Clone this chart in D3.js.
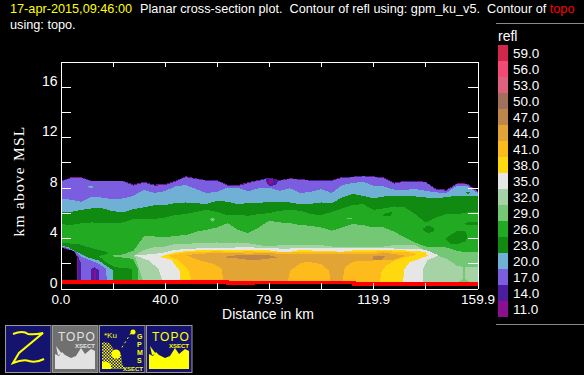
<!DOCTYPE html>
<html>
<head>
<meta charset="utf-8">
<script src="https://cdn.jsdelivr.net/npm/d3@7"></script>
<style>
    html, body { margin: 0; padding: 0; background: #000; overflow: hidden; }
    svg { display: block; }
    text { font-family: "Liberation Sans", sans-serif; font-size: 12.7px; fill: #fff; }
</style>
</head>
<body>
<div id="chart"></div>
<script>
// legend
const legendLevels = ["59.0","56.0","53.0","50.0","47.0","44.0","41.0","38.0","35.0","32.0","29.0","26.0","23.0","20.0","17.0","14.0","11.0"];
const legendColors = ["#d0284a","#f24a75","#e06080","#a0705a","#bd8749","#e2a535","#fdbb1c","#ffd90f","#e6e6e6","#a6d3a6","#74c774","#22aa22","#108a10","#6fb0d4","#7b5ee0","#4c1d9e","#8b0f8f"];

// axis ticks
const xTicks = [0,20,40,60,79.9,99.9,119.9,139.9,159.9];
const xTickLabels = ["0.0","","40.0","","79.9","","119.9","","159.9"];
const yTicks = [0,2,4,6,8,10,12,14,16];
const yTickLabels = ["0","","4","","8","","12","","16"];

// distance samples in km, the top edge of each contour level is read at these
const dist = [0,4,8,12,16,20,24,28,32,36,40,44,48,52,56,60,64,68,72,76,80,84,88,92,96,100,104,108,112,116,120,124,128,132,136,140,144,148,152,156,159.9];

// top edge of each reflectivity level, km above MSL
const top11 = [8.52,8.82,8.82,8.55,8.55,8.55,8.55,8.24,8.47,8.24,8.28,8.53,8.9,8.74,8.6,8.6,8.24,8.2,8.44,8.6,8.8,8.6,8.74,8.68,8.6,8.6,8.6,8.84,8.87,8.95,8.9,8.8,8.4,8.53,8.53,8.47,7.92,7.84,8.34,8.32,7.75];
const top14 = [8.5,8.79,8.79,8.52,8.52,8.52,8.52,8.2,8.44,8.2,8.24,8.5,8.87,8.71,8.57,8.57,8.2,8.15,8.4,8.57,8.77,8.57,8.71,8.65,8.57,8.57,8.57,8.81,8.84,8.92,8.87,8.77,8.36,8.5,8.5,8.44,7.88,7.8,8.31,8.29,7.71];
const top17 = [8.47,8.76,8.76,8.49,8.49,8.49,8.49,8.15,8.41,8.15,8.2,8.47,8.84,8.68,8.54,8.54,8.15,8.1,8.36,8.54,8.73,8.54,8.68,8.62,8.54,8.54,8.54,8.78,8.81,8.89,8.84,8.73,8.31,8.47,8.47,8.41,7.83,7.75,8.28,8.25,7.67];
const top20 = [7.14,7.04,6.88,7.3,7.2,7.09,7.14,7.35,7.83,7.57,7.72,8.1,8.2,7.88,7.57,7.67,7.99,7.99,7.72,7.94,7.99,7.75,7.94,7.57,7.67,7.88,7.57,8.2,8.36,8.47,8.15,8.1,7.83,7.83,7.88,7.75,7.62,7.57,8.15,8.1,7.57];
const top23 = [6.08,6.08,6.24,6.35,6.35,6.14,6.03,6.3,6.43,6.61,6.61,6.77,6.82,6.77,6.69,6.96,6.88,6.69,6.77,6.77,6.88,6.82,6.82,6.67,6.72,6.82,6.77,7.22,7.51,7.35,7.14,7.3,7.3,7.35,7.3,7.22,7.14,7.25,7.35,7.35,7.3];
const top26 = [5.11,5.03,5.18,5.24,5.18,5.18,5.24,5.5,5.5,5.5,5.63,5.82,5.9,6.08,6.24,6.08,5.82,5.82,5.77,5.9,5.98,6.16,6.24,6.16,5.9,5.82,6.08,6.35,6.61,6.69,6.24,6.35,6.51,6.43,5.9,5.24,5.63,5.9,5.9,6.03,6.08];
const top29 = [null,null,null,null,null,2.62,2.7,3.0,4.13,4.13,4.05,4.18,4.23,4.5,4.66,4.84,5.18,4.66,4.39,4.84,5.37,5.24,5.18,5.03,4.97,4.84,4.58,4.84,5.11,5.03,4.84,4.84,4.5,4.05,3.65,3.33,3.33,3.25,2.99,2.86,2.86];
const top32 = [null,null,null,null,null,null,null,2.6,3.05,3.28,3.33,3.52,3.52,3.6,3.6,3.65,3.6,3.65,3.6,3.44,3.33,3.44,3.44,3.44,3.44,3.44,3.33,3.33,3.33,3.33,3.33,3.33,3.44,3.44,3.44,2.99,2.65,2.38,1.8,1.67,1.67];
const top35 = [null,null,null,null,null,null,null,null,2.67,2.75,2.86,3.07,3.12,3.17,3.23,3.23,3.17,3.28,3.28,3.23,3.23,3.17,3.17,3.23,3.23,3.23,3.23,3.23,3.23,3.23,3.23,3.23,3.17,3.17,3.17,3.07,2.72,null,null,null,null];
const top38 = [null,null,null,null,null,null,null,null,null,null,2.65,2.86,2.96,3.02,3.02,3.07,3.02,3.07,3.07,3.02,3.02,2.91,2.91,3.07,3.02,2.96,2.96,2.91,3.02,3.02,3.02,3.07,3.02,3.02,2.96,2.91,null,null,null,null,null];
const top41 = [null,null,null,null,null,null,null,null,null,null,null,2.72,2.86,2.91,2.91,2.96,2.91,2.91,2.96,2.91,2.91,2.86,2.86,2.86,2.86,2.86,2.86,2.86,2.91,2.91,2.91,3.0,2.91,2.91,2.8,null,null,null,null,null,null];
const top44 = [null,null,null,null,null,null,null,null,null,null,null,null,2.65,2.72,2.78,2.78,2.78,2.81,2.75,2.81,2.81,2.75,2.75,2.75,2.75,2.75,2.75,2.75,2.7,2.7,2.7,2.86,2.72,null,null,null,null,null,null,null,null];
const top47 = [null,null,null,null,null,null,null,null,null,null,null,null,null,null,null,null,2.54,2.65,2.67,2.67,2.65,null,null,null,null,null,null,null,null,null,null,null,null,null,null,null,null,null,null,null,null];

// rest of each outline, [km, km above MSL], going back from right to left
const edge11 = [[159.9,0.35],[6.5,0.35],[6.5,0.77],[6.3,2.49],[5,3.02],[2.4,3.1],[0,3.25]];
const edge14 = [[159.9,0.35],[6.9,0.35],[6.8,2.3],[5.4,2.98],[2.4,3.13],[0,3.28]];
const edge17 = [[159.9,0.35],[7.9,0.35],[7.9,1.96],[6.9,2.49],[5,2.98],[2.4,3.16],[0,3.31]];
const edge20 = [[159.9,0.35],[17.8,0.35],[17.5,1.56],[14.6,1.96],[10.7,2.3],[8.2,2.49],[6.3,2.88],[3.1,3.2],[0,3.35]];
const edge23 = [[159.9,0.35],[20.3,0.35],[20.3,1.43],[17.8,1.77],[14.6,2.22],[10.7,2.46],[6.9,2.83],[3.1,3.25],[0,3.41]];
const edge26 = [[159.9,0.35],[27.4,0.35],[27.4,1.56],[20.9,1.69],[17.8,2.04],[14.6,2.57],[18.4,2.78],[17.1,2.94],[12,3.2],[6.9,3.52],[0,3.62]];
const edge29 = [[159.9,0.35],[29.7,0.35],[29.7,1.56],[27.7,2.35],[20,2.55]];
const edge32 = [[159.9,0.35],[32.2,0.35],[29.9,1.69],[28.9,2.35],[28,2.57]];
const edge35 = [[144.9,2.6],[140.8,2.27],[138.9,1.53],[138.9,0.35],[39.5,0.35],[38.9,0.77],[37.6,1.56],[33.8,2.22],[29.3,2.57],[28.4,2.62]];
const edge38 = [[140.8,2.59],[133.8,2.06],[131.9,1.53],[131.2,0.35],[45.7,0.35],[45.7,1.4],[42.5,2.27],[40,2.4],[38.2,2.5]];
const edge41 = [[136.3,2.65],[131.9,2.46],[128,2.2],[124.8,1.8],[122.9,1.27],[122.5,0.35],[50.1,0.35],[50.1,0.74],[48.9,1.53],[45,2.27],[41.2,2.59]];
const edge44 = [[132.5,2.6],[127.4,2.27],[123.5,2.27],[120,2.22],[116,2.22],[112,2.12],[109,1.67],[108,0.35],[103.6,0.35],[103,1.4],[100,1.93],[95,2.12],[92,2.01],[88,1.4],[87,0.35],[62.3,0.35],[62,1.53],[59,1.93],[52.7,2.27],[48.9,2.59]];
const edge47 = [[83,2.45],[80,2.38],[76,2.27],[72,2.27],[68,2.38],[64,2.43],[62.3,2.5]];

// small closed cells that sit inside a neighbouring level
const cell14a = [[11.6,0.35],[11.7,1.5],[13,1.72],[14.6,1.45],[14.8,0.35]];
const cell11a = [[12.7,0.35],[12.8,1.5],[13.5,1.5],[13.5,0.35]];
const cell14b = [[78.5,8.75],[79.5,8.2],[81,8.1],[83,8.3],[83.5,8.6],[81,8.72]];
const cell11b = [[79.8,8.72],[80.2,8.25],[81.2,8.25],[81.5,8.7]];
const cell20a = [[10.1,8.05],[11.5,8.15],[13,8.05],[11.5,7.96]];
const cell23a = [[123.5,5.75],[124.5,6],[127,6.05],[126.8,5.75]];
const cell23b = [[138.9,4.75],[141,5],[143.4,4.8],[143,4.5],[141,4.4],[139.5,4.55]];
const cell23c = [[147.6,3.95],[150,4.3],[152,4.55],[155,4.55],[156,4.2],[155.5,3.75],[152,3.5],[149.5,3.5]];
const cell23d = [[154.8,5.13],[156,5.24],[159.9,5.24],[159.9,5.03],[156,5.03]];
const cell23e = [[155,7.6],[157.4,7.67],[156.5,7.46]];
const cell29a = [[57.2,5.45],[58.2,5.63],[59.3,5.45],[58.2,5.29]];
const cell29b = [[109.7,5.58],[111.6,5.58],[111.6,5.48],[109.7,5.48]];
const cell29c = [[154.4,1.8],[155.2,1.8],[155.2,0.75],[157,0.5],[152.5,0.5],[154.4,0.75]];
const cell47a = [[119.7,2.56],[124.5,2.6],[123.5,2.3],[119.7,2.25]];

// topo contour, km above MSL
const topoDist = [0,64,74,112.5,159.9];
const topoHeight = [0.5,0.42,0.48,0.34,0.34];

const color = level => legendColors[legendLevels.indexOf(level)];

var dimensions = {
    width: 584,
    height: 375,
    left: 60.5,
    right: 477.5,
    top: 61.5,
    bottom: 288.5
};

const svg = d3.select('#chart')
              .append('svg')
              .attr('width', dimensions.width)
              .attr('height', dimensions.height);

const xScale = d3.scaleLinear()
                 .domain([0, 159.9])
                 .range([dimensions.left, dimensions.right]);
const yScale = d3.scaleLinear()
                 .domain([0, 18])
                 .range([dimensions.bottom, dimensions.top]);

const outline = d3.line()
                  .x(d => xScale(d[0]))
                  .y(d => yScale(d[1]));

//Contour levels are painted lowest first, each one over the last
const levels = [
    ["11.0", top11, edge11], ["14.0", top14, edge14], ["17.0", top17, edge17],
    ["20.0", top20, edge20], ["23.0", top23, edge23], ["26.0", top26, edge26],
    ["29.0", top29, edge29], ["32.0", top32, edge32], ["35.0", top35, edge35],
    ["38.0", top38, edge38], ["41.0", top41, edge41], ["44.0", top44, edge44],
    ["47.0", top47, edge47]
];
const cells = [
    ["14.0", cell14a], ["11.0", cell11a], ["14.0", cell14b], ["11.0", cell11b],
    ["20.0", cell20a], ["23.0", cell23a], ["23.0", cell23b], ["23.0", cell23c],
    ["23.0", cell23d], ["23.0", cell23e], ["29.0", cell29a], ["29.0", cell29b],
    ["29.0", cell29c], ["47.0", cell47a]
];

const plot = svg.append('g').attr('shape-rendering', 'crispEdges');

levels.forEach(function([level, tops, edge]) {
    const upper = dist.map((d, i) => [d, tops[i]]).filter(d => d[1] !== null);
    plot.append('path')
        .attr('d', outline(upper.concat(edge)) + 'Z')
        .attr('fill', color(level));
});

cells.forEach(function([level, cell]) {
    plot.append('path')
        .attr('d', outline(cell) + 'Z')
        .attr('fill', color(level));
});

//Topo contour
const topoLine = d3.line()
                   .curve(d3.curveStepAfter)
                   .x(d => xScale(d[0]))
                   .y(d => yScale(d[1]));
plot.append('path')
    .attr('d', topoLine(topoDist.map((d, i) => [d, topoHeight[i]])))
    .attr('fill', 'none')
    .attr('stroke', '#ff0000')
    .attr('stroke-width', 3.5);

//Axes, ticks point into the plot
const xLabel = d => xTickLabels[xTicks.indexOf(d)];
const yLabel = d => yTickLabels[yTicks.indexOf(d)];

function cleanAxis(g) {
    g.attr('shape-rendering', 'crispEdges');
    g.select('.domain').attr('stroke', '#fff');
    g.selectAll('.tick line').attr('stroke', '#fff');
    g.attr('font-family', null).attr('font-size', null);
}

svg.append('g')
   .attr('transform', `translate(0, ${dimensions.bottom})`)
   .call(d3.axisBottom(xScale).tickValues(xTicks).tickSizeInner(-6).tickSizeOuter(0).tickPadding(6).tickFormat(xLabel))
   .call(cleanAxis)
   .selectAll('text').style('font-size', '13.5px');

svg.append('g')
   .attr('transform', `translate(0, ${dimensions.top})`)
   .call(d3.axisTop(xScale).tickValues(xTicks).tickSizeInner(-5).tickSizeOuter(0).tickFormat(''))
   .call(cleanAxis);

svg.append('g')
   .attr('transform', `translate(${dimensions.left}, 0)`)
   .call(d3.axisLeft(yScale).tickValues(yTicks).tickSizeInner(-10).tickSizeOuter(0).tickPadding(3).tickFormat(yLabel))
   .call(cleanAxis)
   .selectAll('text').attr('dy', '-0.1em').style('font-size', '14px');

svg.append('g')
   .attr('transform', `translate(${dimensions.right}, 0)`)
   .call(d3.axisRight(yScale).tickValues(yTicks).tickSizeInner(-10).tickSizeOuter(0).tickFormat(''))
   .call(cleanAxis);

//Axis titles
svg.append('text')
   .attr('x', 268).attr('y', 319)
   .attr('text-anchor', 'middle')
   .style('font-size', '14px')
   .text('Distance in km');

svg.append('text')
   .attr('transform', 'translate(24, 181) rotate(-90)')
   .attr('text-anchor', 'middle')
   .style('font-family', '"Liberation Serif", serif')
   .style('font-size', '15.5px')
   .style('letter-spacing', '1.2px')
   .text('km above MSL');

//Title
const title = svg.append('text').attr('x', 10).attr('y', 13).attr('xml:space', 'preserve');
title.append('tspan').style('fill', '#ffff00').text('17-apr-2015,09:46:00');
title.append('tspan').attr('dx', 8).text('Planar cross-section plot.  Contour of refl using: gpm_ku_v5.  Contour of ');
title.append('tspan').style('fill', '#ff0000').text('topo');
svg.append('text').attr('x', 10).attr('y', 29).text('using: topo.');

//Colour legend
[23.5, 324.5].forEach(function(y) {
    svg.append('line')
       .attr('x1', 496).attr('x2', 584)
       .attr('y1', y).attr('y2', y)
       .attr('stroke', '#8a8a8a');
});
svg.append('text').attr('x', 498).attr('y', 41).style('font-size', '14px').text('refl');

const legendY = d3.scaleBand().domain(legendLevels).range([45, 317]);
svg.append('g')
   .attr('shape-rendering', 'crispEdges')
   .selectAll('rect')
   .data(legendLevels)
   .join('rect')
   .attr('x', 498).attr('width', 10)
   .attr('y', d => legendY(d))
   .attr('height', legendY.bandwidth())
   .attr('fill', d => color(d));
svg.append('g')
   .selectAll('text')
   .data(legendLevels)
   .join('text')
   .attr('x', 513)
   .attr('y', d => legendY(d) + 13)
   .style('font-size', '13.5px')
   .text(d => d);

//Toolbar icons under the plot
const icons = [
    { x: 5, bg: '#14146e' },
    { x: 52, bg: '#707070' },
    { x: 99, bg: '#14146e' },
    { x: 146, bg: '#14146e' }
];
const defs = svg.append('defs');
const checker = defs.append('pattern')
                    .attr('id', 'checker')
                    .attr('width', 3).attr('height', 3)
                    .attr('patternUnits', 'userSpaceOnUse');
checker.append('rect').attr('width', 1.5).attr('height', 1.5).attr('fill', '#ffff00');
checker.append('rect').attr('x', 1.5).attr('y', 1.5).attr('width', 1.5).attr('height', 1.5).attr('fill', '#ffff00');

const icon = svg.append('g').selectAll('g')
                .data(icons)
                .join('g')
                .attr('transform', d => `translate(${d.x}, 325)`);
icon.append('rect')
    .attr('x', 0.5).attr('y', 0.5).attr('width', 45.5).attr('height', 47)
    .attr('fill', d => d.bg)
    .attr('stroke', '#9a9a9a');

const hills = 'M3 44V29L7 31L10 27L13 30L19 33L24 31L29 23L33 29L39 24L43 26V44Z';

function topoIcon(i, paint) {
    const g = icon.filter((d, j) => j === i);
    g.append('path').attr('d', hills).attr('fill', paint);
    g.append('text').attr('x', 6).attr('y', 15.5)
     .style('font-size', '12px').style('fill', paint).style('letter-spacing', '1px').text('TOPO');
    g.append('text').attr('x', 23).attr('y', 22.5)
     .style('font-size', '6px').style('font-weight', 'bold').style('fill', paint).text('XSECT');
    g.append('path').attr('d', 'M4 21L10 29L6 30Z').attr('fill', paint);
}

icon.filter((d, i) => i === 0).append('path')
    .attr('d', 'M8 9Q18 5 23 9Q29 10 38 8L14 28L8 38Q18 34 24 36Q31 38 39 34')
    .attr('fill', 'none')
    .attr('stroke', '#ffff00')
    .attr('stroke-width', 2);
topoIcon(1, '#e2e2e2');
topoIcon(3, '#ffff00');

const gpm = icon.filter((d, i) => i === 2);
gpm.append('path').attr('d', 'M3 17L10 18L16 26L22 29L23 38L26 44H3Z').attr('fill', 'url(#checker)');
gpm.append('circle').attr('cx', 17).attr('cy', 29).attr('r', 4.5).attr('fill', '#ffff00');
gpm.append('path').attr('d', 'M3 37Q8 35 12 40V44H3Z').attr('fill', '#ffff00');
gpm.append('path').attr('d', 'M32 8L22 24').attr('stroke', '#ffff00').attr('stroke-dasharray', '2 3');
gpm.append('circle').attr('cx', 34).attr('cy', 7).attr('r', 2.5).attr('fill', '#ffff00');
gpm.append('text').attr('x', 5).attr('y', 13).style('font-size', '8px').style('fill', '#ffff00').text('*Ku');
['G','P','M','S'].forEach(function(c, i) {
    gpm.append('text').attr('x', 38).attr('y', [14, 22, 30, 38][i])
       .style('font-size', '7px').style('font-weight', 'bold').style('fill', '#ffff00').text(c);
});
gpm.append('text').attr('x', 24).attr('y', 45.5)
   .style('font-size', '6px').style('font-weight', 'bold').style('fill', '#ffff00').text('XSECT');
</script>
</body>
</html>
